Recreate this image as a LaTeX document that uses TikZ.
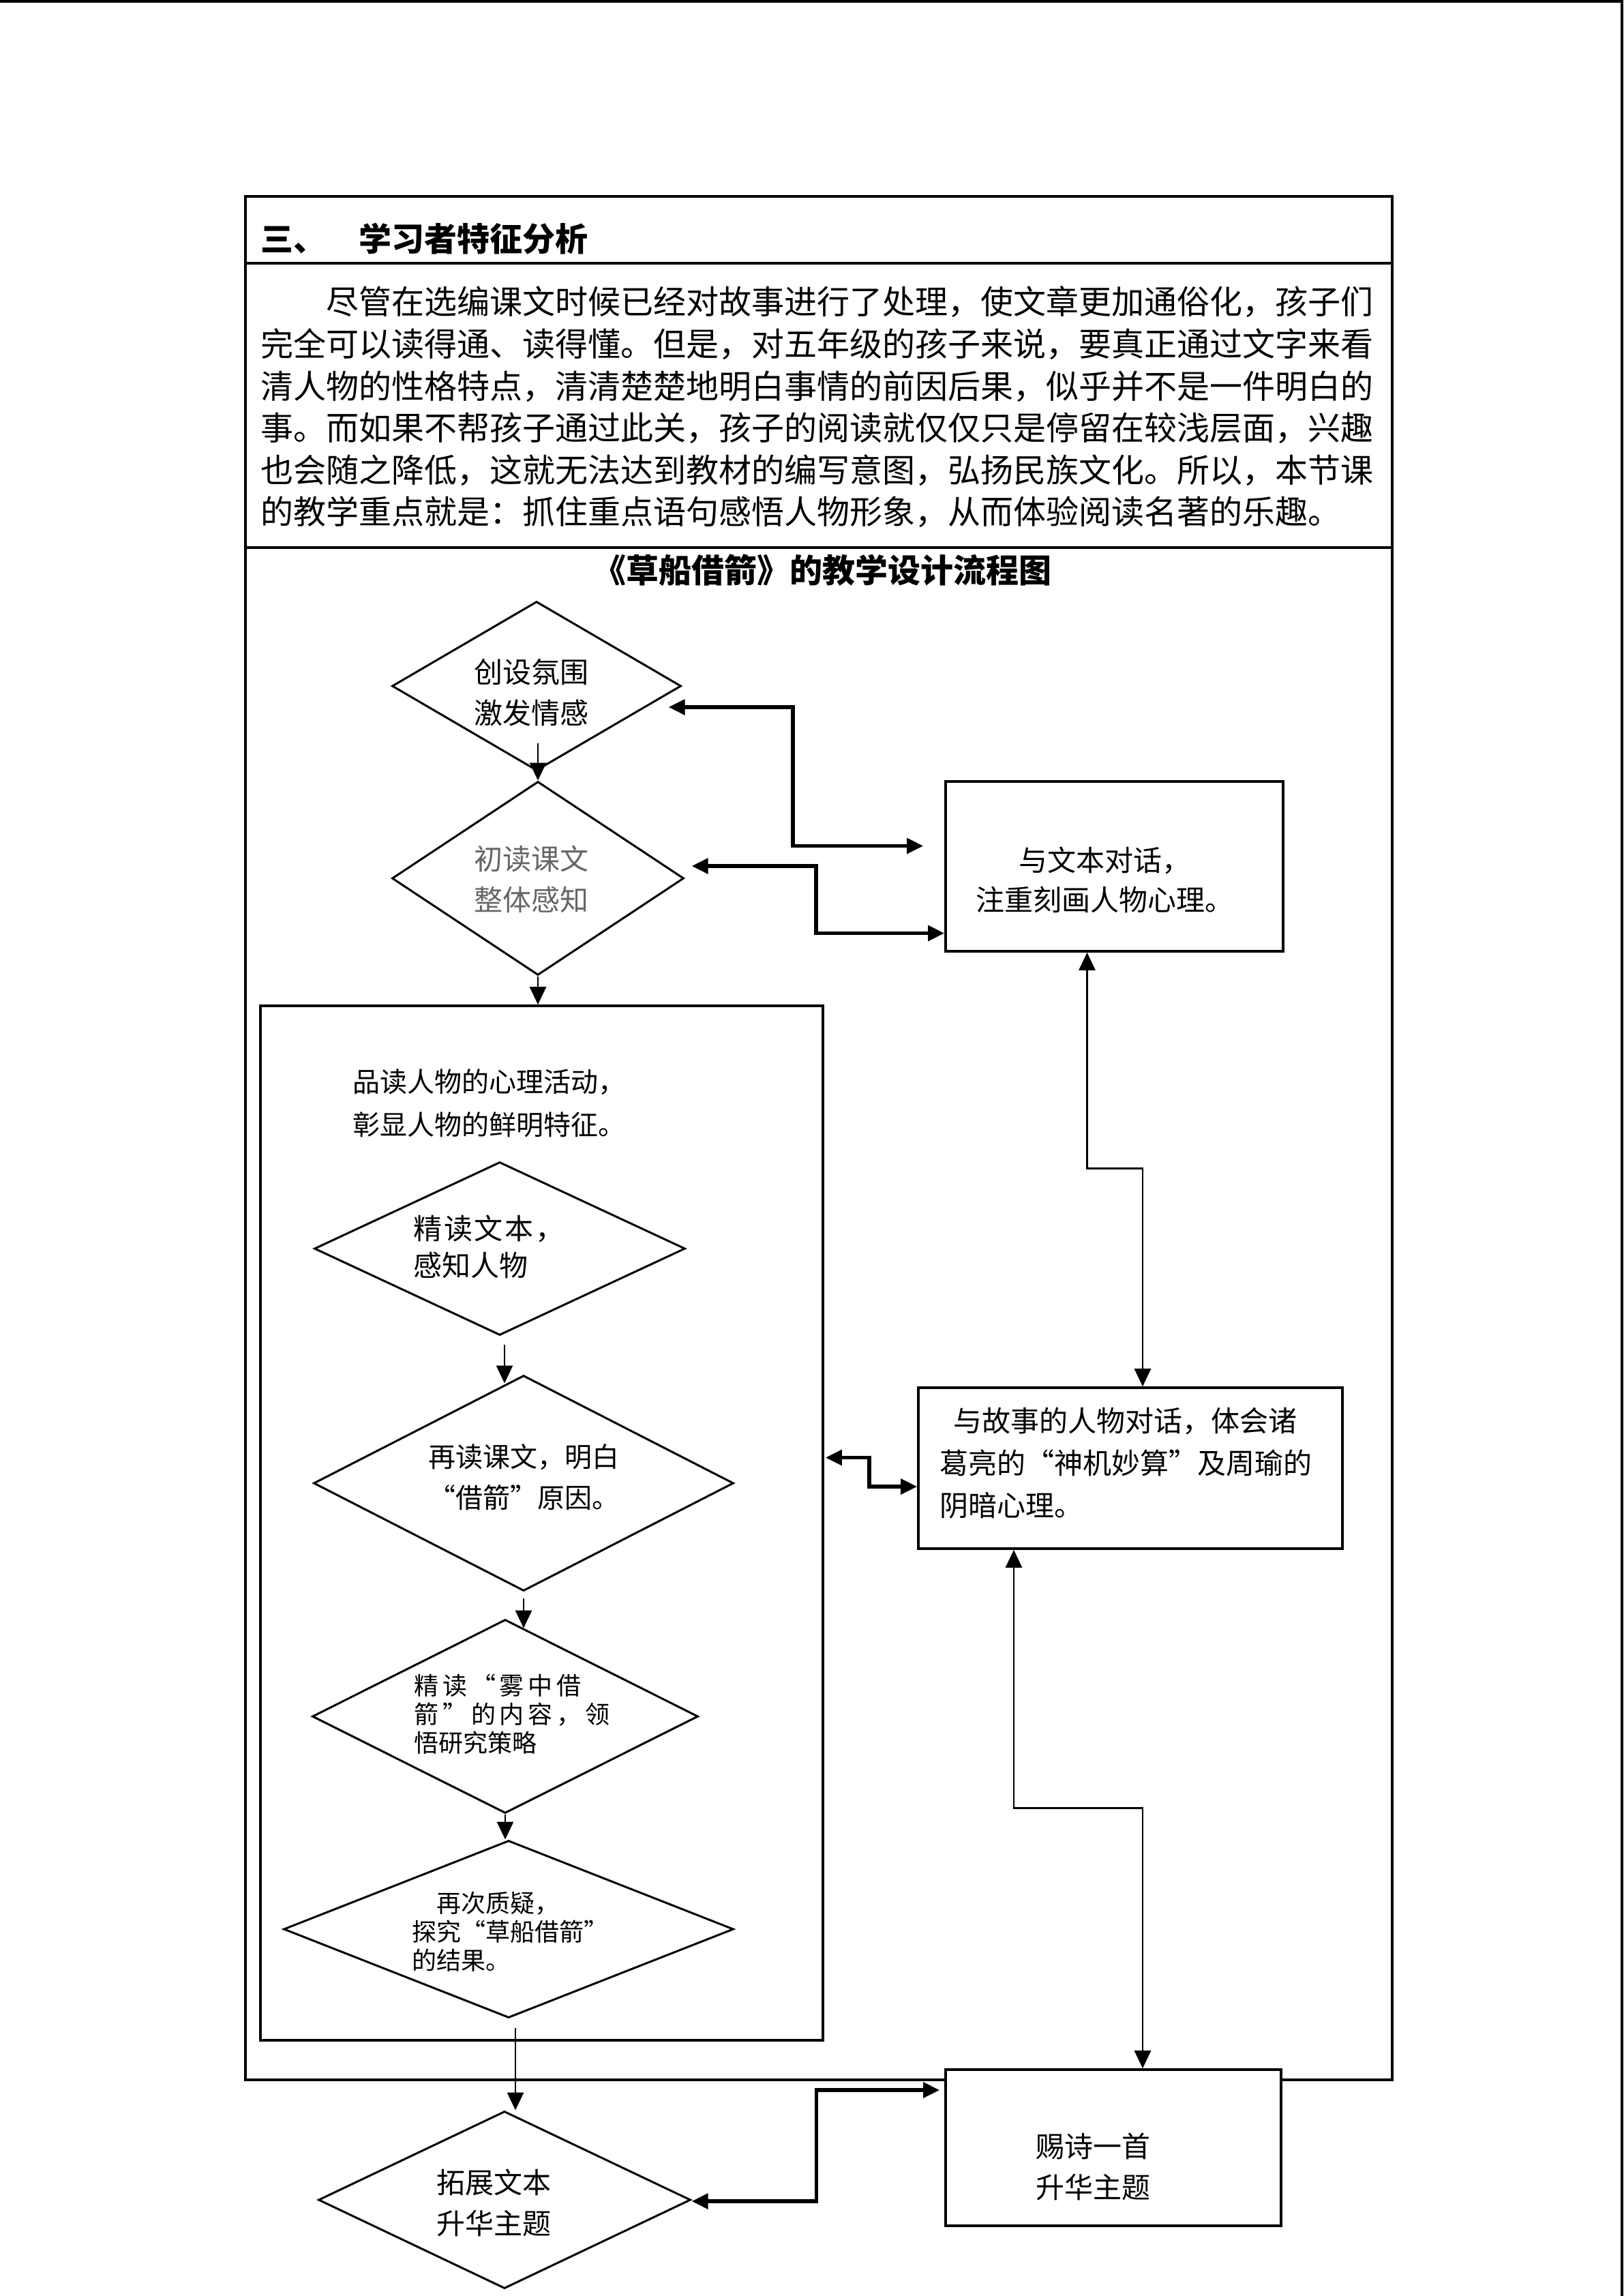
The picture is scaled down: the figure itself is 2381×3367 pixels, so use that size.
\documentclass[tikz,border=0pt]{standalone}
\usepackage{fontspec}
\setmainfont{Noto Sans CJK SC}
\usepackage{tikz}
\usetikzlibrary{arrows.meta,shapes.geometric,positioning,calc}
\usepackage{xcolor}

\begin{document}
\begin{tikzpicture}[x=0.25pt, y=-0.25pt,
    dia/.style={draw, diamond, line width=0.75pt, inner sep=0pt},
    box/.style={draw, rectangle, line width=0.9pt, inner sep=0pt, fill=white},
    txt/.style={inner sep=0pt, align=center, font=\fontsize{10.5pt}{15pt}\selectfont},
    stxt/.style={inner sep=0pt, align=left, font=\fontsize{9pt}{10.5pt}\selectfont},
    arr/.style={line width=0.7pt, -{Triangle[length=6.5pt,width=6pt]}},
    both/.style={line width=0.7pt, {Triangle[length=6.5pt,width=6pt]}-{Triangle[length=6.5pt,width=6pt]}},
    dbl/.style={line width=1.4pt, {Triangle[length=6pt,width=5.5pt]}-{Triangle[length=6pt,width=5.5pt]}}]
    \useasboundingbox (0,0) rectangle (2381,3367);

    % Page edges
    \draw[line width=1pt] (0,2) -- (2381,2);
    \draw[line width=0.8pt] (2379,0) -- (2379,3367);

    % Table frame
    \draw[line width=0.8pt] (360,288) rectangle (2042,3050);
    \draw[line width=0.8pt] (360,386) -- (2042,386);
    \draw[line width=0.8pt] (360,803) -- (2042,803);

    % Heading and paragraph
    \node[anchor=west, inner sep=0pt, font=\fontsize{12pt}{15pt}\selectfont\bfseries] (head) at (382,350) {三、\hspace{12pt}学习者特征分析};
    \node[anchor=west, inner sep=0pt, align=left, font=\fontsize{12pt}{15.4pt}\selectfont] (para) at (382,597) {\hspace*{24pt}尽管在选编课文时候已经对故事进行了处理，使文章更加通俗化，孩子们\\
        完全可以读得通、读得懂。但是，对五年级的孩子来说，要真正通过文字来看\\
        清人物的性格特点，清清楚楚地明白事情的前因后果，似乎并不是一件明白的\\
        事。而如果不帮孩子通过此关，孩子的阅读就仅仅只是停留在较浅层面，兴趣\\
        也会随之降低，这就无法达到教材的编写意图，弘扬民族文化。所以，本节课\\
        的教学重点就是：抓住重点语句感悟人物形象，从而体验阅读名著的乐趣。};

    % Title
    \node[inner sep=0pt, font=\fontsize{12pt}{15pt}\selectfont\bfseries] (title) at (1206,836) {《草船借箭》的教学设计流程图};

    % Left column
    \node[dia, minimum width=106pt, minimum height=62pt] (d1) at (787,1006) {};
    \node[dia, minimum width=107pt, minimum height=71pt] (d2) at (789,1288) {};
    \node[box, minimum width=206.25pt, minimum height=379.25pt] (p) at (794.5,2233.5) {};
    \node[dia, minimum width=136pt, minimum height=63.5pt] (d3) at (733,1831) {};
    \node[dia, minimum width=154pt, minimum height=79pt] (d4) at (768,2175) {};
    \node[dia, minimum width=141.5pt, minimum height=71pt] (d5) at (741,2517) {};
    \node[dia, minimum width=165pt, minimum height=65pt] (d6) at (746,2829) {};
    \node[dia, minimum width=136.5pt, minimum height=65pt] (d7) at (740,3226) {};

    % Right column
    \node[box, minimum width=123.75pt, minimum height=62.25pt] (b1) at (1634.5,1270.5) {};
    \node[box, minimum width=155.5pt, minimum height=59pt] (b2) at (1658,2153) {};
    \node[box, minimum width=123pt, minimum height=57.25pt] (b3) at (1633,3149.5) {};

    % Texts
    \node[txt] (t1) at ([shift={(-8,10)}]d1.center) {创设氛围\\激发情感};
    \node[txt, text=black!60] (t2) at ([shift={(-10,1)}]d2.center) {初读课文\\整体感知};
    \node[txt, align=left, font=\fontsize{10.5pt}{13.5pt}\selectfont] (t3) at ([shift={(-16,-3)}]d3.center) {{\addfontfeatures{LetterSpace=6}精读文本，}\\感知人物};
    \node[txt, font=\fontsize{10pt}{15pt}\selectfont] (t4) at ([shift={(0,-9)}]d4.center) {再读课文，明白\\“借箭”原因。};
    \node[stxt] (t5) at ([shift={(10,-3)}]d5.center) {{\addfontfeatures{LetterSpace=16}精读“雾中借}\\{\addfontfeatures{LetterSpace=16}箭”的内容，领}\\悟研究策略};
    \node[stxt] (t6) at ([shift={(2,4)}]d6.center) {\hspace*{9pt}再次质疑，\\探究“草船借箭”\\的结果。};
    \node[txt] (t7) at ([shift={(-16,4)}]d7.center) {拓展文本\\升华主题};
    \node[txt, anchor=west, align=left, font=\fontsize{10pt}{15.75pt}\selectfont] (tp) at ([shift={(136,145)}]p.north west) {品读人物的心理活动，\\彰显人物的鲜明特征。};
    \node[txt, font=\fontsize{10.5pt}{14.5pt}\selectfont] (tb1) at ([shift={(-14,20)}]b1.center) {与文本对话，\\注重刻画人物心理。};
    \node[txt, align=left, font=\fontsize{10.5pt}{15.5pt}\selectfont] (tb2) at ([shift={(-7,-7)}]b2.center) {\hspace*{5pt}与故事的人物对话，体会诸\\葛亮的“神机妙算”及周瑜的\\阴暗心理。};
    \node[txt] (tb3) at ([shift={(-30,28)}]b3.center) {赐诗一首\\升华主题};

    % Flow arrows
    \draw[arr] ([shift={(2,-42)}]d1.south) -- (d2.north);
    \draw[arr] (d2.south) -- (d2.south |- p.north);
    \draw[arr] ([shift={(7,12)}]d3.south) -- ([shift={(-28,13)}]d4.north);
    \draw[arr] ([shift={(0,9)}]d4.south) -- ([shift={(27,14)}]d5.north);
    \draw[arr] (d5.south) -- (d5.south |- d6.north);
    \draw[arr] ([shift={(10,13)}]d6.south) -- ([shift={(16,0)}]d7.north);

    % Dialogue links
    \draw[dbl] ([shift={(-20,31)}]d1.east) -| ([shift={(-222,-30)}]b1.west) -- ([shift={(-31,-30)}]b1.west);
    \draw[dbl] ([shift={(10,-18)}]d2.east) -| ([shift={(-188,98)}]b1.west) -- ([shift={(0,98)}]b1.west);
    \draw[both] ([shift={(-40,0)}]b1.south) |- ([shift={(18,-320)}]b2.north) -- ([shift={(18,0)}]b2.north);
    \draw[dbl] ([shift={(2,-96)}]p.east) -| ([shift={(-70,27)}]b2.west) -- ([shift={(0,27)}]b2.west);
    \draw[both] ([shift={(-171,0)}]b2.south) |- ([shift={(43,-382)}]b3.north) -- ([shift={(43,0)}]b3.north);
    \draw[dbl] ([shift={(-7,-84.5)}]b3.west) -| ([shift={(183,2)}]d7.east) -- ([shift={(0,2)}]d7.east);
\end{tikzpicture}
\end{document}
